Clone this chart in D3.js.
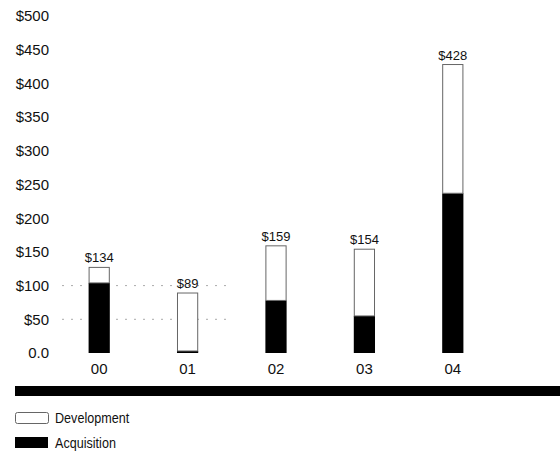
<!DOCTYPE html>
<html>
<head>
<meta charset="utf-8">
<script src="https://cdn.jsdelivr.net/npm/d3@7"></script>
<style>
  body { margin: 0; background: #fff; }
  svg text { font-family: "Liberation Sans", Arial, sans-serif; fill: #111; }
</style>
</head>
<body>
<div class="chart"></div>
<script>
// values ($ millions)
const years = ["00", "01", "02", "03", "04"];
const acquisition = [104, 3, 78, 55, 237];
const development = [23, 86, 81, 99, 191];
const totalLabels = ["$134", "$89", "$159", "$154", "$428"];
const yTicks = [0, 50, 100, 150, 200, 250, 300, 350, 400, 450, 500];
const gridValues = [50, 100];
const legendItems = ["Development", "Acquisition"];

function drawChart() {
  const W = 560, H = 454;

  const svg = d3.select(".chart")
    .append("svg")
    .attr("width", W)
    .attr("height", H);

  const x = d3.scaleBand()
    .domain(years)
    .range([55, 497])
    .paddingInner(0.76)
    .paddingOuter(0.38);

  const y = d3.scaleLinear()
    .domain([0, 500])
    .range([353, 16]);

  // faint dotted guides
  svg.append("g")
    .selectAll("line")
    .data(gridValues)
    .join("line")
    .attr("x1", 62)
    .attr("x2", x("01") + x.bandwidth() + 30)
    .attr("y1", d => y(d))
    .attr("y2", d => y(d))
    .attr("stroke", "#aaa")
    .attr("stroke-width", 1)
    .attr("stroke-dasharray", "2,7");

  // Y axis labels
  const yAxis = d3.axisLeft(y)
    .tickValues(yTicks)
    .tickSize(0)
    .tickPadding(0)
    .tickFormat(d => d === 0 ? "0.0" : "$" + d);
  svg.append("g")
    .attr("transform", "translate(49,0)")
    .call(yAxis)
    .call(g => g.select(".domain").remove())
    .selectAll("text")
    .attr("font-size", "15px")
    .attr("font-family", "'Liberation Sans', Arial, sans-serif")
    .attr("fill", "#111");

  // X axis labels
  const xAxis = d3.axisBottom(x).tickSize(0).tickPadding(0);
  svg.append("g")
    .attr("transform", "translate(0,363)")
    .call(xAxis)
    .call(g => g.select(".domain").remove())
    .selectAll("text")
    .attr("font-size", "15px")
    .attr("font-family", "'Liberation Sans', Arial, sans-serif")
    .attr("fill", "#111");

  // Acquisition (black, bottom)
  svg.append("g")
    .selectAll("rect")
    .data(years)
    .join("rect")
    .attr("x", d => x(d))
    .attr("width", x.bandwidth())
    .attr("y", (d, i) => y(acquisition[i]))
    .attr("height", (d, i) => y(0) - y(acquisition[i]))
    .attr("fill", "#000");

  // Development (white, stacked on top)
  svg.append("g")
    .selectAll("rect")
    .data(years)
    .join("rect")
    .attr("x", d => x(d) + 0.5)
    .attr("width", x.bandwidth() - 1)
    .attr("y", (d, i) => y(acquisition[i] + development[i]))
    .attr("height", (d, i) => y(acquisition[i]) - y(acquisition[i] + development[i]))
    .attr("fill", "#fff")
    .attr("stroke", "#666")
    .attr("stroke-width", 1);

  // total labels
  svg.append("g")
    .selectAll("text")
    .data(years)
    .join("text")
    .attr("x", d => x(d) + x.bandwidth() / 2)
    .attr("y", (d, i) => y(acquisition[i] + development[i]) - 5)
    .attr("text-anchor", "middle")
    .attr("font-size", "13px")
    .text((d, i) => totalLabels[i]);

  // thick bottom band
  svg.append("rect")
    .attr("x", 15)
    .attr("y", 386)
    .attr("width", W - 15)
    .attr("height", 10)
    .attr("fill", "#000");

  // legend
  const legend = svg.append("g")
    .selectAll("g")
    .data(legendItems)
    .join("g")
    .attr("transform", (d, i) => `translate(15, ${412 + i * 25})`);

  legend.append("rect")
    .attr("x", (d, i) => i === 0 ? 0.5 : 0)
    .attr("y", (d, i) => i === 0 ? 0.5 : 0)
    .attr("width", 33)
    .attr("height", 11)
    .attr("rx", (d, i) => i === 0 ? 2 : 0)
    .attr("fill", (d, i) => i === 0 ? "#fff" : "#000")
    .attr("stroke", (d, i) => i === 0 ? "#666" : "none");

  // condensed look of the original type
  legend.append("text")
    .attr("transform", "translate(40,6) scale(0.84,1)")
    .attr("dy", "0.35em")
    .attr("font-size", "15px")
    .text(d => d);
}

drawChart();
</script>
</body>
</html>
